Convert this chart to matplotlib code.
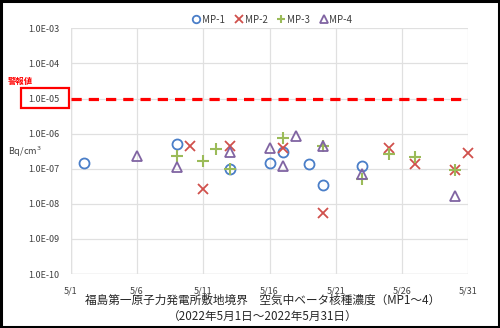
import numpy as np
import matplotlib
matplotlib.use('Agg')
import matplotlib.pyplot as plt
from matplotlib.patches import Rectangle

plt.rcParams['font.family'] = ['Noto Sans CJK JP', 'DejaVu Sans']

# day of May, concentration in Bq/cm3
mp1_days = [2, 9, 13, 16, 17, 19, 20, 23]
mp1_vals = [1.43e-7, 5.1e-7, 1.0e-7, 1.48e-7, 2.9e-7, 1.36e-7, 3.5e-8, 1.2e-7]
mp2_days = [10, 11, 13, 17, 20, 25, 27, 30, 31]
mp2_vals = [4.4e-7, 2.6e-8, 4.4e-7, 3.8e-7, 5.6e-9, 3.8e-7, 1.36e-7, 9.2e-8, 2.75e-7]
mp3_days = [9, 11, 12, 13, 17, 20, 23, 25, 27, 30]
mp3_vals = [2.35e-7, 1.7e-7, 3.6e-7, 9.5e-8, 7.3e-7, 4.4e-7, 5.0e-8, 2.6e-7, 2.2e-7, 9.2e-8]
mp4_days = [6, 9, 13, 16, 17, 18, 20, 23, 30]
mp4_vals = [2.3e-7, 1.15e-7, 3.05e-7, 3.8e-7, 1.19e-7, 8.5e-7, 4.3e-7, 7.1e-8, 1.66e-8]

alarm_level = 1e-5
x_ticks = [1, 6, 11, 16, 21, 26, 31]
x_labels = ['5/1', '5/6', '5/11', '5/16', '5/21', '5/26', '5/31']
y_ticks = [1e-10, 1e-9, 1e-8, 1e-7, 1e-6, 1e-5, 1e-4, 1e-3]
y_labels = ['1.0E-10', '1.0E-09', '1.0E-08', '1.0E-07', '1.0E-06', '1.0E-05', '1.0E-04', '1.0E-03']

fig = plt.figure(figsize=(5.0, 3.28), dpi=100)
ax = fig.add_axes([0.1414, 0.1646, 0.7952, 0.7491])

ms = 7.2
ax.plot(mp1_days, mp1_vals, 'o', ms=ms, mfc='none', mec='#4A7EC8', mew=1.3, label='MP-1', clip_on=False, zorder=3)
ax.plot(mp2_days, mp2_vals, 'x', ms=ms, mec='#D0504C', mew=1.3, label='MP-2', clip_on=False, zorder=3)
ax.plot(mp3_days, mp3_vals, '+', ms=ms + 1, mec='#9BBB59', mew=1.5, label='MP-3', clip_on=False, zorder=3)
ax.plot(mp4_days, mp4_vals, '^', ms=ms, mfc='none', mec='#8064A2', mew=1.3, label='MP-4', clip_on=False, zorder=3)

ax.axhline(alarm_level, color='#FF0000', lw=2.3, dashes=(3.2, 2.2), zorder=2)

ax.set_yscale('log')
ax.set_ylim(1e-10, 1e-3)
ax.set_xlim(1, 31)
ax.set_xticks(x_ticks)
ax.set_xticklabels(x_labels)
ax.set_yticks(y_ticks)
ax.set_yticklabels(y_labels)
ax.yaxis.set_minor_locator(matplotlib.ticker.NullLocator())
ax.tick_params(length=0, labelsize=6.5, colors='#404040', pad=8)
ax.tick_params(axis='x', pad=9)
ax.grid(True, color='#E0E0E0', lw=0.9)
ax.set_axisbelow(True)
for s in ax.spines.values():
    s.set_visible(False)
ax.axvline(1, color='#D0D0D0', lw=0.9, zorder=0)
ax.axhline(1e-10, color='#D0D0D0', lw=0.9, zorder=0)

# alarm label and box round the 1.0E-05 tick
fig.text(8 / 500, 1 - 81 / 328, '警報値', color='#FF0000', fontsize=6,
         fontweight='bold', va='center', ha='left')
fig.add_artist(Rectangle((20.7 / 500, 1 - 108.3 / 328), 48.3 / 500, 20.6 / 328,
                         transform=fig.transFigure, fill=False, ec='#FF0000', lw=1.6))

fig.text(8 / 500, 1 - 152 / 328, 'Bq/cm$^3$', fontsize=6.5, color='#404040', va='center', ha='left')

fig.legend(loc='center', bbox_to_anchor=(272 / 500, 1 - 19.7 / 328), ncol=4, frameon=False,
           fontsize=7, handletextpad=0.1, columnspacing=0.9, handlelength=1.0,
           markerscale=0.75, labelcolor='#404040')

fig.text(263 / 500, 1 - 300.7 / 328, '福島第一原子力発電所敷地境界\u3000空気中ベータ核種濃度（MP1～4）',
         fontsize=8.4, ha='center', va='center', color='#262626')
fig.text(263 / 500, 1 - 317.3 / 328, '（2022年5月1日～2022年5月31日）',
         fontsize=8.4, ha='center', va='center', color='#262626')

fig.add_artist(Rectangle((0.002, 0.003), 0.996, 0.994, transform=fig.transFigure,
                         fill=False, ec='black', lw=2.2))

fig.savefig('out.png', dpi=100)
